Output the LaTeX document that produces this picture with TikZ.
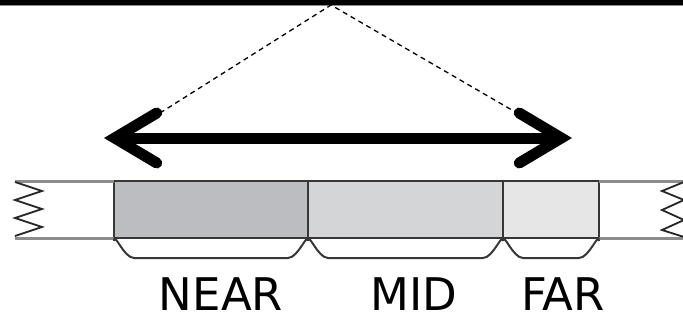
\documentclass[tikz,border=0pt]{standalone}
\usepackage{fontspec}
\setmainfont{DejaVu Sans}
\usetikzlibrary{arrows.meta,calc}
\definecolor{nearfill}{RGB}{188,189,192}
\definecolor{midfill}{RGB}{212,213,215}
\definecolor{farfill}{RGB}{230,230,230}
\definecolor{edgegray}{RGB}{55,55,55}
\definecolor{railgray}{RGB}{140,140,140}
\tikzset{%
  % Specifications for style of nodes:
          zone/.style = {rectangle, draw=edgegray, line width=2pt,
                         inner sep=0pt, outer sep=0pt,
                         minimum height=57pt, anchor=north west},
       nearbox/.style = {zone, fill=nearfill, minimum width=194pt},
        midbox/.style = {zone, fill=midfill, minimum width=195pt},
        farbox/.style = {zone, fill=farfill, minimum width=96pt},
     rangename/.style = {anchor=base, inner sep=0pt, text depth=0pt,
                         font=\fontsize{45}{45}\selectfont},
  % Specifications for style of lines:
         brace/.style = {draw=edgegray, line width=2pt},
          rail/.style = {draw=railgray, line width=3pt},
        spring/.style = {draw=black!85, line width=1.8pt},
         sight/.style = {dash pattern=on 5pt off 4pt, line width=1.3pt},
         reach/.style = {<->, line width=11pt,
                         >={Straight Barb[length=42pt, width=50pt,
                            line cap=round, line join=miter]}},
}

\begin{document}
\begin{tikzpicture}[x=1pt, y=-1pt]
  \useasboundingbox (0,0) rectangle (683,321);
  % Specification of nodes (position, etc.)
  \node (near) [nearbox] at (114,181) {};
  \node (mid)  [midbox]  at (near.north east) {};
  \node (far)  [farbox]  at (mid.north east) {};

  \node (nearname) [rangename] at (221,310) {NEAR};
  \node (midname)  [rangename] at (414,310) {MID};
  \node (farname)  [rangename] at (563,310) {FAR};

  \coordinate (eye)   at (331,5);
  \coordinate (tipL)  at (104,138);
  \coordinate (tipR)  at (572,138);
  \coordinate (armL)  at (160,113);
  \coordinate (armR)  at (517,113);

  % top edge
  \fill[black] (0,0) rectangle (683,5);
  \draw[railgray, line width=1pt] (0,5.5) -- (683,5.5);

  % rails and cut ends either side of the zones
  \draw[rail] (15,181) -- (near.north west);
  \draw[rail] (15,238) -- (near.south west);
  \draw[rail] (far.north east) -- (683,181);
  \draw[rail] (far.south east) -- (683,238);
  \draw[spring] (15,182) -- (42,191) -- (15,200) -- (42,209) -- (15,218)
                -- (42,227) -- (15,236);
  \draw[spring] (684,182) -- (662,191) -- (684,200) -- (662,210)
                -- (684,220) -- (662,230) -- (684,237);

  % braces under the zones
  \foreach \z in {near, mid, far}
    \draw[brace] ($(\z.south west)+(0,3)$) to[out=90,in=180]
                 ($(\z.south west)+(20,20)$) -- ($(\z.south east)+(-20,20)$)
                 to[out=0,in=90] ($(\z.south east)+(0,3)$);

  % lines of sight and reach
  \draw[sight] (armL) -- (eye) -- (armR);
  \draw[reach] (tipL) -- (tipR);
\end{tikzpicture}
\end{document}
